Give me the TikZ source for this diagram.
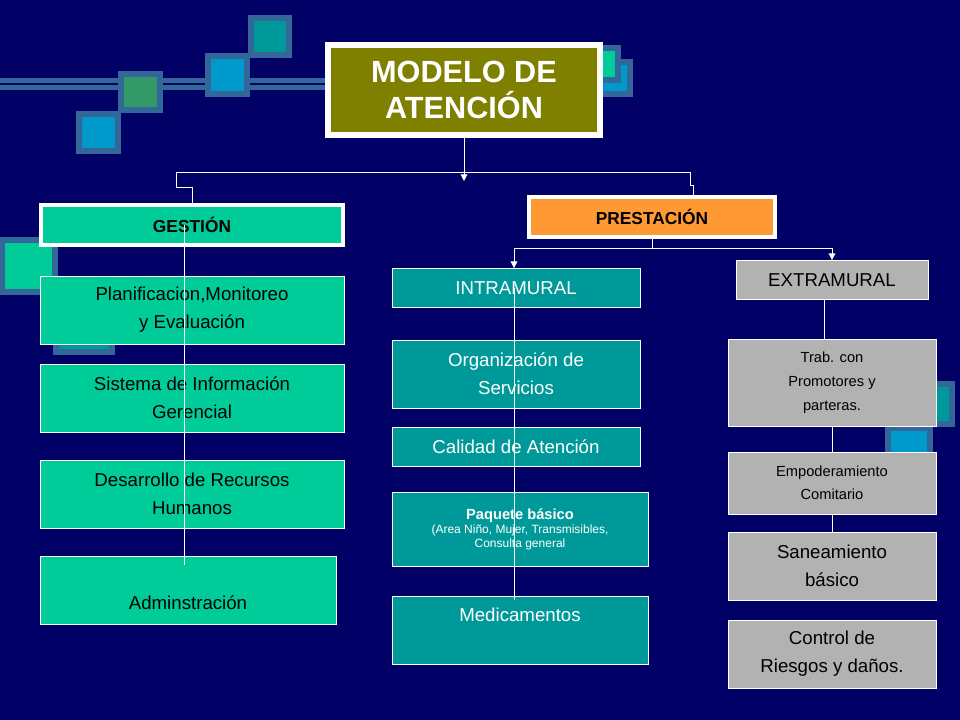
\documentclass[tikz,border=0pt]{standalone}
\usepackage{fontspec}
\setmainfont{Liberation Sans}
\usetikzlibrary{arrows.meta}
\definecolor{bg}{HTML}{000066}
\definecolor{olive}{HTML}{808000}
\definecolor{gest}{HTML}{00CC99}
\definecolor{orng}{HTML}{FF9933}
\definecolor{intra}{HTML}{009999}
\definecolor{grayb}{HTML}{B2B2B2}
\definecolor{frame}{HTML}{336699}
\definecolor{sqblue}{HTML}{0099CC}
\definecolor{sqgreen}{HTML}{339966}
\begin{document}
\begin{tikzpicture}[x=0.75pt,y=-0.75pt,
  sq/.style={draw=frame,line width=4.5pt},
  ln/.style={draw=white,line width=0.7pt},
  ar/.style={ln,-{Triangle[width=5pt,length=5pt]}}]
\fill[bg] (0,0) rectangle (960,720);
\useasboundingbox (0,0) rectangle (960,720);
% decorations
\fill[frame] (0,78) rectangle (330,90);
\draw[bg,line width=1.5pt] (0,84) -- (330,84);
\draw[sq,fill=sqblue] (79,114) rectangle (118,151);
\draw[sq,fill=sqgreen] (121,74) rectangle (160,110);
\draw[sq,fill=sqblue] (208,56) rectangle (247,94);
\draw[sq,fill=intra] (251,18) rectangle (289,55);
\draw[sq,fill=sqblue] (596,62) rectangle (630,94);
\draw[sq,fill=gest] (590,48) rectangle (618,80);
\draw[sq,fill=gest] (2,240) rectangle (55,292);
\draw[sq,fill=intra] (56,300) rectangle (112,352);
\draw[sq,fill=intra] (896,384) rectangle (952,424);
\draw[sq,fill=sqblue] (888,428) rectangle (930,458);
% title
\node[draw=white,line width=4.5pt,fill=olive,minimum width=204pt,minimum height=67.5pt,text=white,font=\fontsize{23}{27}\selectfont\bfseries,align=center] (t) at (464,90) {MODELO DE\\ATENCIÓN};
\node[draw=white,line width=3pt,fill=gest,minimum width=226.5pt,minimum height=30pt,font=\fontsize{13}{15}\selectfont\bfseries] (g) at (192,225) {GESTIÓN};
\node[draw=white,line width=3pt,fill=orng,minimum width=184.5pt,minimum height=30pt,font=\fontsize{13}{15}\selectfont\bfseries] (p) at (652,217) {PRESTACIÓN};
% gestion boxes
\tikzset{gb/.style={draw=white,line width=0.6pt,fill=gest,minimum width=228pt,minimum height=51pt,align=center,font=\fontsize{14}{21}\selectfont}}
\node[gb] (g1) at (192,310) {Planificacion,Monitoreo\\y Evaluación};
\node[gb] (g2) at (192,398) {Sistema de Información\\Gerencial};
\node[gb] (g3) at (192,494) {Desarrollo de Recursos\\Humanos};
\node[gb,minimum width=222pt] (g4) at (188,590) {};
\node[font=\fontsize{14}{21}\selectfont] (g4t) at (188,603) {Adminstración};
% intramural
\tikzset{ib/.style={draw=white,line width=0.6pt,fill=intra,minimum width=186pt,text=white,align=center,font=\fontsize{14}{21}\selectfont}}
\node[ib,minimum height=29.25pt] (i0) at (516,288) {INTRAMURAL};
\node[ib,minimum height=51pt] (i1) at (516,374) {Organización de\\Servicios};
\node[ib,minimum height=29.25pt] (i2) at (516,447) {Calidad de Atención};
\node[ib,minimum height=55.5pt,minimum width=192pt] (i3) at (520,529) {};
\node[text=white,align=center] (i3t) at (520,529) {{\fontsize{11}{14}\selectfont\bfseries Paquete básico}\\[-1pt]{\fontsize{9}{12}\selectfont (Area Niño, Mujer, Transmisibles,}\\[-2pt]{\fontsize{9}{12}\selectfont Consulta general}};
\node[ib,minimum height=51pt,minimum width=192pt] (i4) at (520,630) {};
\node[text=white,font=\fontsize{14}{21}\selectfont] (i4t) at (520,615) {Medicamentos};
% extramural
\tikzset{eb/.style={draw=white,line width=0.6pt,fill=grayb,minimum width=156pt,align=center}}
\node[eb,minimum width=144pt,minimum height=29.25pt,font=\fontsize{14}{21}\selectfont] (e0) at (832,280) {EXTRAMURAL};
\node[eb,minimum height=65.25pt,font=\fontsize{11}{18}\selectfont] (e1) at (832,383) {Trab. con\\Promotores y\\parteras.};
\node[eb,minimum height=46.5pt,font=\fontsize{11}{17}\selectfont] (e2) at (832,483) {Empoderamiento\\Comitario};
\node[eb,minimum height=51pt,font=\fontsize{14}{21}\selectfont] (e3) at (832,566) {Saneamiento\\básico};
\node[eb,minimum height=51pt,font=\fontsize{14}{21}\selectfont] (e4) at (832,654) {Control de\\Riesgos y daños.};
% connectors
\draw[ar] (t.south) -- (464,181);
\draw[ln] (192,0 |- g.north) -- (192,187) -- (176,187) -- (176,172) -- (690,172) -- (690,185) -- (693,185) -- (693,0 |- p.north);
\draw[ln] (184,0 |- g.center) -- (184,565);
\draw[ln] (p.south) -- (652,248);
\draw[ar] (514,248) -- (514,0 |- i0.north);
\draw[ln] (514,248) -- (652,248);
\draw[ar] (652,248) -- (832,248) -- (e0.north);
\draw[ln] (514,0 |- i0.center) -- (514,600);
\draw[ln] (824,0 |- e0.south) -- (824,0 |- e1.north);
\draw[ln] (832,0 |- e1.south) -- (832,0 |- e2.north);
\draw[ln] (832,0 |- e2.south) -- (832,0 |- e3.north);
\end{tikzpicture}
\end{document}
